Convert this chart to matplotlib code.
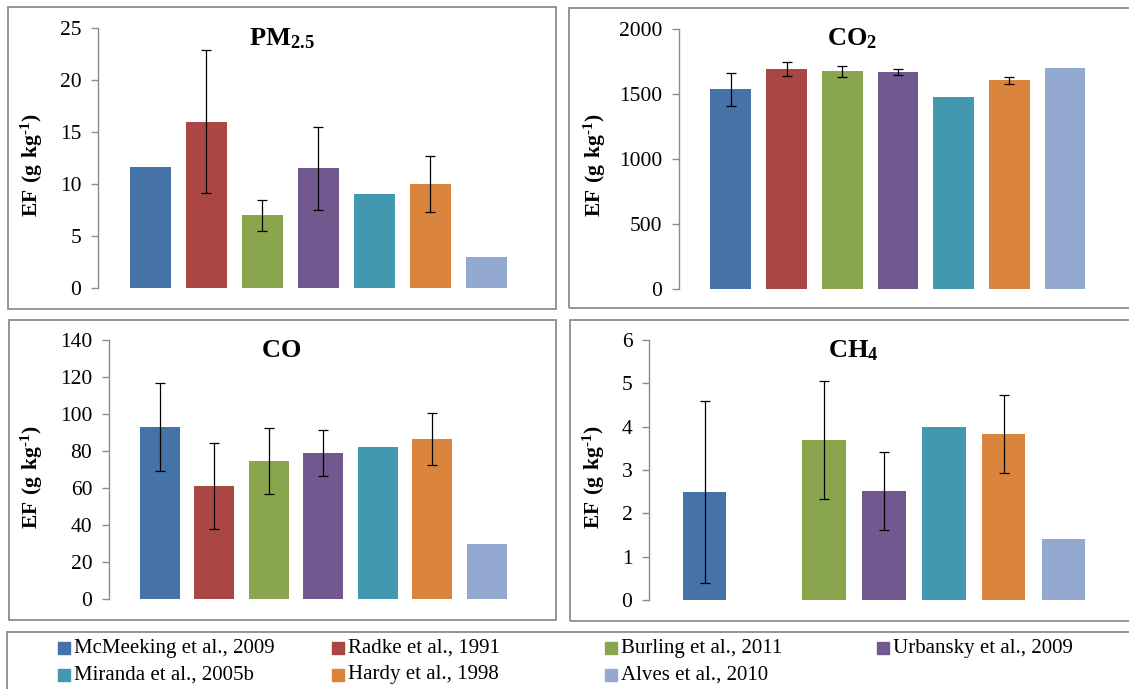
import numpy as np
import matplotlib
matplotlib.use("Agg")
import matplotlib.pyplot as plt
from matplotlib.patches import Rectangle

plt.rcParams['font.family'] = ['Liberation Serif', 'DejaVu Serif']
plt.rcParams['mathtext.fontset'] = 'custom'
plt.rcParams['mathtext.rm'] = 'Liberation Serif'
plt.rcParams['mathtext.bf'] = 'Liberation Serif:bold'

# studies (legend order)
studies = ['McMeeking et al., 2009', 'Radke et al., 1991', 'Burling et al., 2011',
           'Urbansky et al., 2009', 'Miranda et al., 2005b', 'Hardy et al., 1998',
           'Alves et al., 2010']
colors = ['#4572A7', '#AA4643', '#89A54E', '#71588F', '#4198AF', '#DB843D', '#93A9CF']

nan = np.nan
# emission factors (g/kg) and error bars
pm25 = [11.6, 16.0, 7.0, 11.5, 9.0, 10.0, 3.0]
pm25_err = [nan, 6.9, 1.5, 4.0, nan, 2.7, nan]
co2 = [1535, 1692, 1674, 1669, 1476, 1607, 1697]
co2_err = [126, 53, 40, 20, nan, 27, nan]
co = [93, 61, 74.6, 78.9, 82, 86.5, 30]
co_err = [24, 23.4, 18, 12.5, nan, 14, nan]
ch4 = [2.5, nan, 3.7, 2.52, 4.0, 3.83, 1.41]
ch4_err = [2.1, nan, 1.36, 0.9, nan, 0.89, nan]

W, H = 1129, 689
fig = plt.figure(figsize=(W / 100, H / 100), dpi=100)
fig.patch.set_facecolor('white')

grey = '#8c8c8c'

def box(x0, y0, x1, y1):
    fig.add_artist(Rectangle((x0 / W, 1 - y1 / H), (x1 - x0) / W, (y1 - y0) / H,
                             transform=fig.transFigure, fill=False,
                             edgecolor=grey, lw=1.3))

# panel frames
box(8, 7, 556, 309)
box(569, 8, 1140, 308)
box(9, 320, 556, 620)
box(570, 320, 1140, 621)
box(7, 632, 1140, 700)

panels = [
    # title, vals, errs, ymax, step, spine x, spacing, bottom, top, title x, title y, label x, label y
    (r'$\mathbf{PM_{2.5}}$', pm25, pm25_err, 25, 5, 98, 56.0, 288, 28, 282, 45, 32, 165),
    (r'$\mathbf{CO_{2}}$', co2, co2_err, 2000, 500, 679, 55.7, 289, 29, 852, 45, 30, 165),
    (r'$\mathbf{CO}$', co, co_err, 140, 20, 109, 54.5, 599, 340, 281, 357, 32, 477),
    (r'$\mathbf{CH_{4}}$', ch4, ch4_err, 6, 1, 649, 59.8, 600, 340, 853, 357, 29, 477),
]

off = 0.93
for i, (title, vals, errs, ymax, step, sx, sp, yb, yt, tx, ty, lx, ly) in enumerate(panels):
    width = (6 + 2 * off) * sp
    ax = fig.add_axes([sx / W, 1 - yb / H, width / W, (yb - yt) / H])
    x = np.arange(len(vals))
    v = np.array(vals, dtype=float)
    e = np.array(errs, dtype=float)
    m = ~np.isnan(v)
    ax.bar(x[m], v[m], width=0.73, color=np.array(colors)[m], zorder=2)
    me = ~np.isnan(e)
    ax.errorbar(x[me], v[me], yerr=e[me], fmt='none', ecolor='black',
                elinewidth=0.9, capsize=3.5, capthick=0.9, zorder=3)
    ax.set_xlim(-off, 6 + off)
    ax.set_ylim(0, ymax)
    ax.set_yticks(np.arange(0, ymax + step, step))
    ax.set_xticks([])
    for s in ['top', 'right', 'bottom']:
        ax.spines[s].set_visible(False)
    ax.spines['left'].set_color(grey)
    ax.spines['left'].set_linewidth(1.0)
    ax.tick_params(axis='y', direction='out', length=5, width=1.0, color=grey,
                   labelsize=15.5, pad=7, labelcolor='black')
    ax.patch.set_alpha(0)
    fig.text(tx / W, 1 - ty / H, title, fontsize=19, ha='center', va='baseline')
    xoff = 0 if i % 2 == 0 else 565
    fig.text((lx + xoff) / W, 1 - ly / H, r'$\mathbf{EF\ (g\ kg^{\text{-}1})}$',
             rotation=90, ha='center', va='center', fontsize=15.5)

# legend
col_x = [58, 332, 605, 877]
row_y = [648, 675]
for k, name in enumerate(studies):
    r, c = divmod(k, 4)
    x0 = col_x[c]
    y0 = row_y[r]
    fig.add_artist(Rectangle((x0 / W, 1 - (y0 + 6) / H), 12 / W, 12 / H,
                             transform=fig.transFigure, color=colors[k]))
    fig.text((x0 + 16) / W, 1 - y0 / H, name, fontsize=15, ha='left', va='center')

fig.savefig('out.png', dpi=100)
